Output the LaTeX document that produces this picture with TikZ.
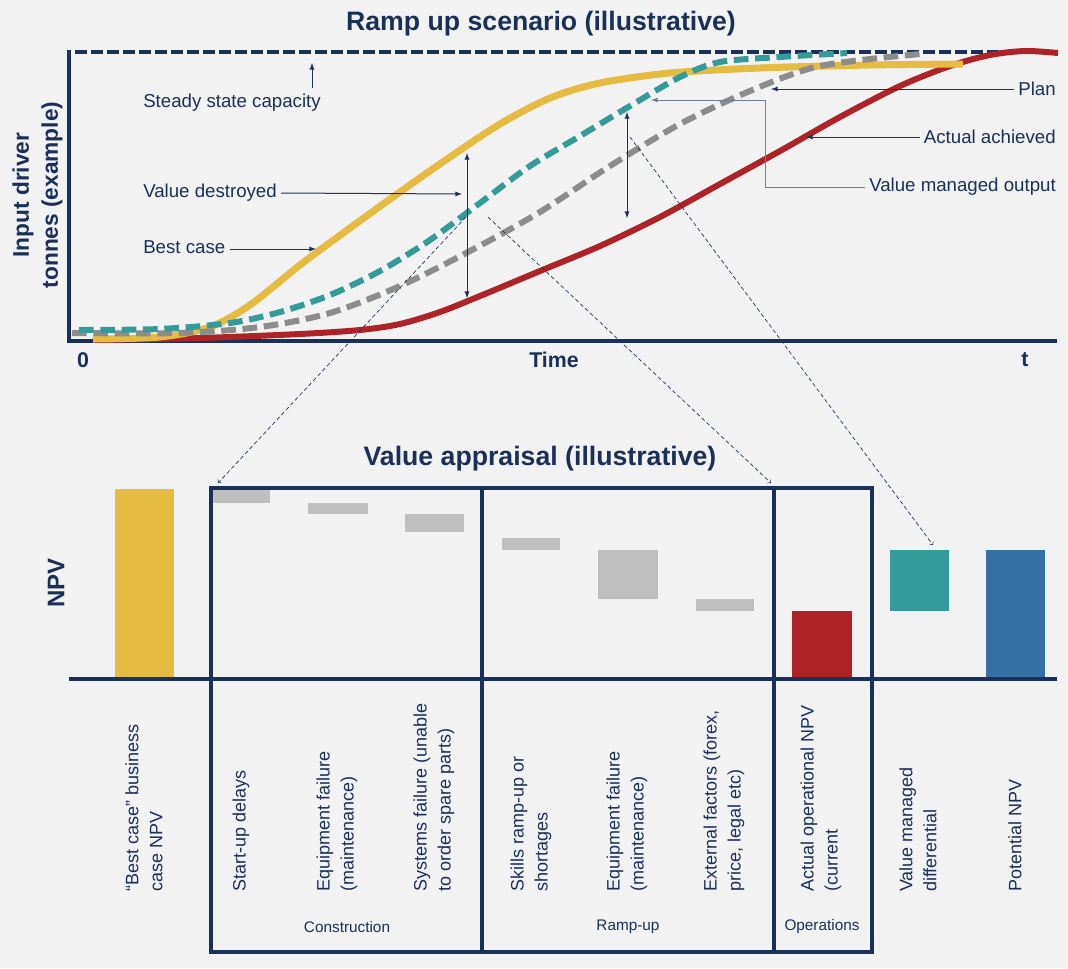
\documentclass[tikz,border=0pt]{standalone}
\usepackage{fontspec}
\setmainfont{Liberation Sans}
\usepackage{tikz}
\usetikzlibrary{shapes,arrows, positioning}
\definecolor{navy}{RGB}{27,48,88}
\definecolor{slate}{RGB}{112,128,154}
\definecolor{paper}{RGB}{242,242,242}
\definecolor{gold}{RGB}{230,187,66}
\definecolor{sea}{RGB}{52,155,152}
\definecolor{crimson}{RGB}{174,35,39}
\definecolor{steel}{RGB}{53,112,165}
\definecolor{planGrey}{RGB}{140,140,140}
\definecolor{lossGrey}{RGB}{191,191,191}
\tikzstyle{heading} = [text=navy, font=\bfseries\fontsize{20}{24}\selectfont]
\tikzstyle{axisline} = [draw=navy, line width=2.6pt]
\tikzstyle{axislabel} = [text=navy, font=\bfseries\fontsize{16}{20}\selectfont]
\tikzstyle{tag} = [text=navy, font=\fontsize{14}{16}\selectfont, inner sep=3pt]
\tikzstyle{pointer} = [draw=navy, line width=0.75pt, -latex]
\tikzstyle{link} = [draw=navy, line width=0.5pt, dash pattern=on 3pt off 2pt, ->]
\tikzstyle{curve} = [line width=4.5pt]
\tikzstyle{cat} = [rotate=90, anchor=west, align=left, text=navy, font=\fontsize{13.5}{18}\selectfont, inner sep=0pt]
\tikzstyle{group} = [text=navy, font=\fontsize{11.5}{14}\selectfont]
\tikzstyle{box} = [draw=navy, line width=3pt]

\begin{document}
\begin{tikzpicture}[x=0.75pt, y=-0.75pt]
			\useasboundingbox (0,0) rectangle (1068,968);
			\fill [paper] (0,0) rectangle (1068,968);

			\node [heading] (rampTitle) at (541,24) {Ramp up scenario (illustrative)};
			\node [axislabel, rotate=90, align=center, font=\bfseries\fontsize{17}{21.75}\selectfont] (inputLabel) at (37.5,195) {Input driver\\tonnes (example)};
			\node [axislabel] (zero) at (83,360) {0};
			\node [axislabel] (time) at (554,360) {Time};
			\node [axislabel] (tEnd) at (1025,360) {t};

			\path [draw=navy, line width=2.5pt, dash pattern=on 9pt off 3pt] (75,52) -- (1057,52);
			\path [axisline] (69,50) -- (69,341) -- (1057,341);

			\draw [curve, crimson] plot [smooth, tension=0.5] coordinates {(93,340) (200,338) (300,334) (360,330) (400,324) (440,312) (480,296) (540,271) (600,246) (660,217) (720,184) (780,151) (840,117) (900,86) (950,66) (990,55) (1025,51) (1058,53)};
			\draw [curve, gold, line width=5.25pt] plot [smooth, tension=0.5] coordinates {(93,339) (160,337) (210,327) (250,305) (300,265) (350,228) (400,192) (450,157) (500,124) (550,98) (600,83) (670,73) (760,68) (870,65) (963,64)};
			\draw [curve, planGrey, dash pattern=on 11pt off 5pt] plot [smooth, tension=0.5] coordinates {(72,333) (180,333) (260,327) (330,313) (400,286) (470,251) (540,212) (610,166) (680,124) (750,91) (820,66) (920,54)};
			\draw [curve, sea, dash pattern=on 11pt off 5pt] plot [smooth, tension=0.5] coordinates {(79,330) (160,329) (230,323) (280,312) (330,295) (380,271) (430,240) (480,203) (530,166) (580,136) (630,106) (680,77) (720,62) (780,57) (847,53)};

			\node [tag, anchor=west] (capacity) at (139,103) {Steady state capacity};
			\node [tag, anchor=west] (destroyed) at (139,193) {Value destroyed};
			\node [tag, anchor=west] (bestCase) at (139,247) {Best case};
			\node [tag, anchor=east] (plan) at (1060,89) {Plan};
			\node [tag, anchor=east] (actual) at (1060,137) {Actual achieved};
			\node [tag, anchor=east] (managed) at (1060,187) {Value managed output};

			\coordinate (capFoot) at (312,88);
			\coordinate (capTip) at (312,63);
			\coordinate (destroyedTip) at (462,194);
			\coordinate (bestTip) at (316,249);
			\coordinate (planTip) at (771,89);
			\coordinate (actualTip) at (806,137);
			\coordinate (managedBend) at (765,100);
			\coordinate (managedTip) at (651,100);
			\coordinate (gapTopA) at (467,153);
			\coordinate (gapBotA) at (467,298);
			\coordinate (gapTopB) at (627,112);
			\coordinate (gapBotB) at (627,218);

			\path [pointer] (capFoot) -- (capTip);
			\path [pointer] (destroyed.east) -- (destroyedTip);
			\path [pointer] ([yshift=-1.5pt]bestCase.east) -- (bestTip);
			\path [pointer] (plan.west) -- (planTip);
			\path [pointer] (actual.west) -- (actualTip);
			\path [pointer, draw=slate] (managed.west) -| (managedBend) -- (managedTip);
			\path [pointer, latex-latex] (gapTopA) -- (gapBotA);
			\path [pointer, latex-latex] (gapTopB) -- (gapBotB);

			\node [heading] (valueTitle) at (540,459) {Value appraisal (illustrative)};
			\node [axislabel, rotate=90, font=\bfseries\fontsize{18}{22}\selectfont] (npv) at (56,583) {NPV};

			\fill [gold] (115,489) rectangle (174,679);
			\fill [lossGrey] (213,489) rectangle (270,503);
			\fill [lossGrey] (308,503) rectangle (368,514);
			\fill [lossGrey] (405,514) rectangle (464,532);
			\fill [lossGrey] (502,538) rectangle (560,550);
			\fill [lossGrey] (598,550) rectangle (658,599);
			\fill [lossGrey] (696,599) rectangle (754,611);
			\fill [crimson] (792,611) rectangle (852,679);
			\fill [sea] (890,550) rectangle (949,611);
			\fill [steel] (986,550) rectangle (1045,679);

			\path [axisline, line width=3pt] (69,679) -- (1057,679);
			\path [box] (211,488) rectangle (872,952);
			\path [box] (482,488) -- (482,952);
			\path [box] (774,488) -- (774,952);

			\coordinate (linkFromA) at (466,217);
			\coordinate (linkToA) at (218,483);
			\coordinate (linkFromB) at (488,217);
			\coordinate (linkToB) at (771,483);
			\coordinate (linkFromC) at (630,137);
			\coordinate (linkToC) at (933,545);

			\path [link] (linkFromA) -- (linkToA);
			\path [link] (linkFromB) -- (linkToB);
			\path [link] (linkFromC) -- (linkToC);

			\node [cat] (bestNPV) at (144,892) {“Best case” business\\case NPV};
			\node [cat] (startUp) at (241,892) {Start-up delays};
			\node [cat] (equipA) at (337,892) {Equipment failure\\(maintenance)};
			\node [cat] (systems) at (434,892) {Systems failure (unable\\to order spare parts)};
			\node [cat] (skills) at (531,892) {Skills ramp-up or\\shortages};
			\node [cat] (equipB) at (627,892) {Equipment failure\\(maintenance)};
			\node [cat] (external) at (724,892) {External factors (forex,\\price, legal etc)};
			\node [cat] (operational) at (821,892) {Actual operational NPV\\(current};
			\node [cat] (differential) at (918,892) {Value managed\\differential};
			\node [cat] (potential) at (1015,892) {Potential NPV};

			\node [group] (construction) at (347,927) {Construction};
			\node [group] (rampUp) at (628,927) {Ramp-up};
			\node [group] (operations) at (822,927) {Operations};
		\end{tikzpicture}
\end{document}
